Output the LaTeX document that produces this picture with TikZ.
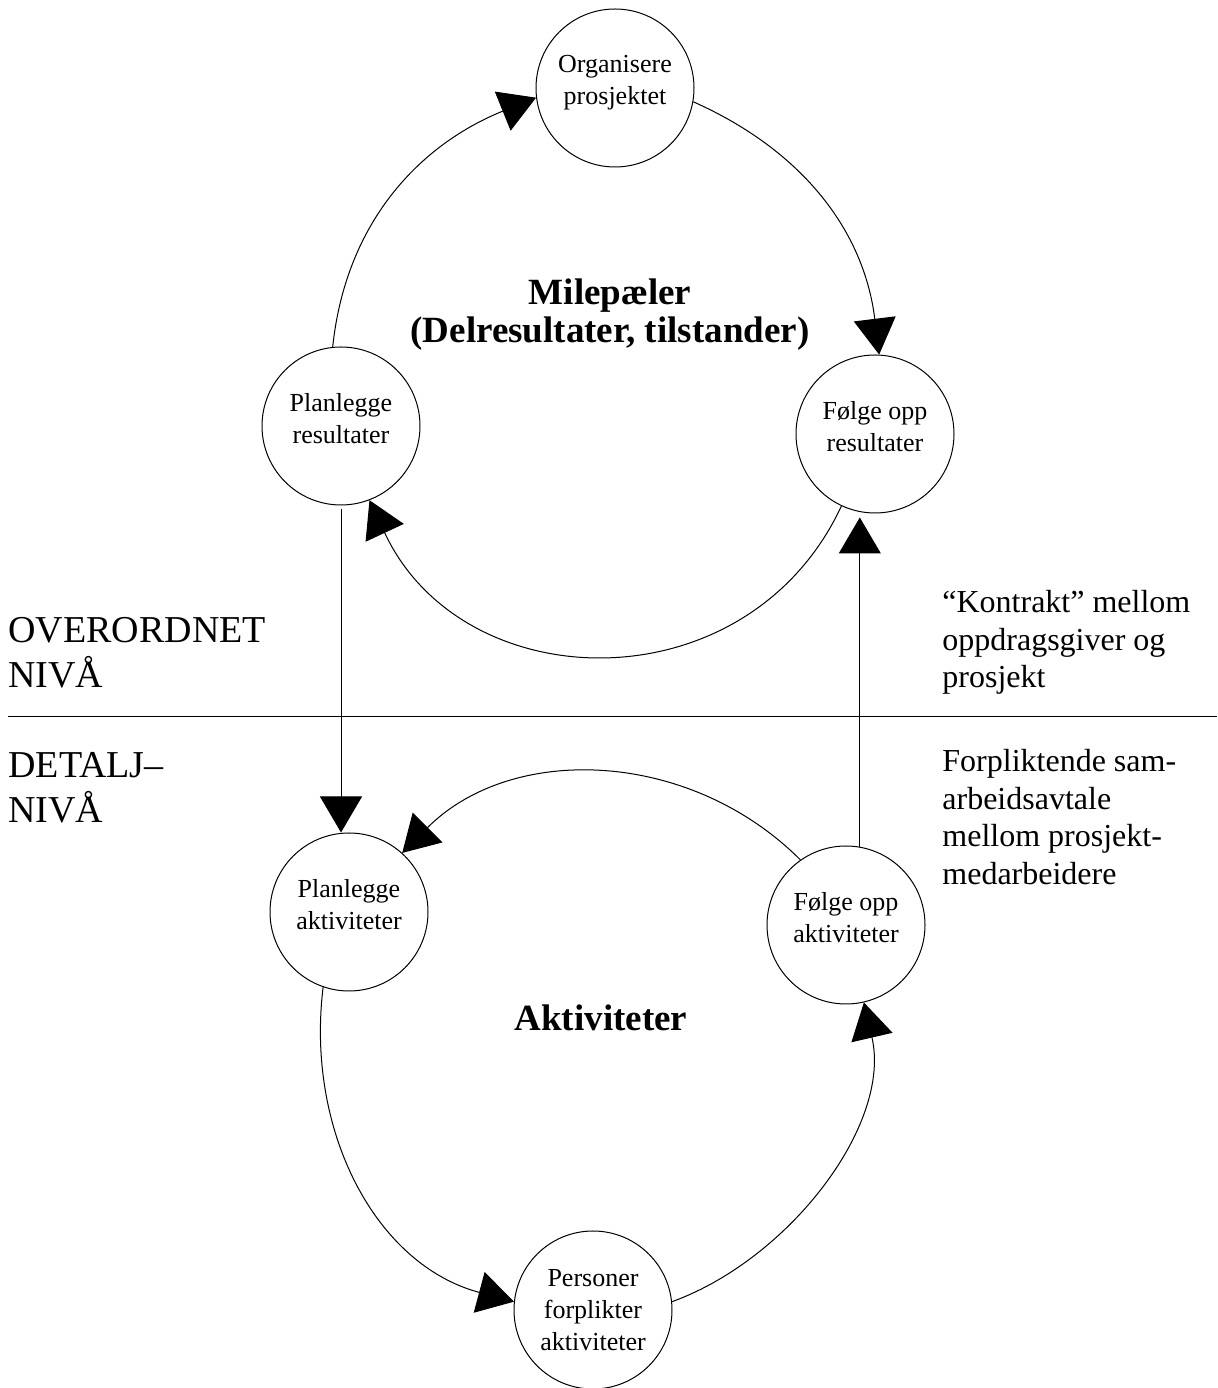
\documentclass[tikz,border=0pt]{standalone}
\usepackage{fontspec}
\setmainfont{Liberation Serif}
\usetikzlibrary{arrows.meta}

\tikzset{
  task/.style={circle,draw,line width=0.5pt,minimum size=79pt,inner sep=0pt,text depth=8pt,align=center,font=\fontsize{13}{16}\selectfont},
  flow/.style={line width=0.5pt,-{Triangle[length=18pt,width=21pt]}},
  level/.style={anchor=north west,align=left,inner sep=0pt,font=\fontsize{19}{22.5}\selectfont},
  note/.style={anchor=north west,align=left,inner sep=0pt,font=\fontsize{16}{18.75}\selectfont},
  heading/.style={align=center,inner sep=0pt,font=\fontsize{18.5}{19}\selectfont\bfseries}
}

\begin{document}
\begin{tikzpicture}[x=0.5pt,y=0.5pt]
  \useasboundingbox (0,0) rectangle (1217,1388);

  % upper level: milestones
  \node[task] (org) at (615,1300) {Organisere\\prosjektet};
  \node[task] (planres) at (341,962) {Planlegge\\resultater};
  \node[task] (folres) at (875,954) {Følge opp\\resultater};
  \node[heading] (mile) at (610,1073) {Milepæler\\(Delresultater, tilstander)};

  % lower level: activities
  \node[task] (planakt) at (349,476) {Planlegge\\aktiviteter};
  \node[task] (folakt) at (846,463) {Følge opp\\aktiviteter};
  \node[task,text depth=0pt] (pers) at (593,78) {Personer\\forplikter\\aktiviteter};
  \node[heading] (akt) at (601,370) {Aktiviteter};

  % cycle, upper level
  \draw[flow] (planres.96) to[out=84,in=202] (org.187);
  \draw[flow] (org.350) to[out=-24,in=97] (folres.87);
  \draw[flow] (folres.245) to[out=245,in=295,looseness=1.2] (planres.291);

  % between the levels
  \draw[flow,shorten <=2pt] (planres.south) -- (planres.south |- planakt.north);
  \draw[flow,shorten >=2pt] (folakt.80) -- (folakt.80 |- folres.south);

  % cycle, lower level
  \draw[flow] (folakt.125) to[out=135,in=45] (planakt.48);
  \draw[flow] (planakt.251) to[out=263,in=165] (pers.174);
  \draw[flow] (pers.6) to[out=20,in=283,looseness=0.9] (folakt.283);

  % divider
  \draw[line width=0.5pt] (8,671) -- (1217,671);

  % level annotations
  \node[level] (over) at (8,771) {OVERORDNET\\NIVÅ};
  \node[level] (detalj) at (8,636) {DETALJ–\\NIVÅ};

  % agreement annotations
  \node[note] (kontrakt) at (942,798) {“Kontrakt” mellom\\oppdragsgiver og\\prosjekt};
  \node[note] (avtale) at (942,639) {Forpliktende sam-\\arbeidsavtale\\mellom prosjekt-\\medarbeidere};

\end{tikzpicture}
\end{document}
